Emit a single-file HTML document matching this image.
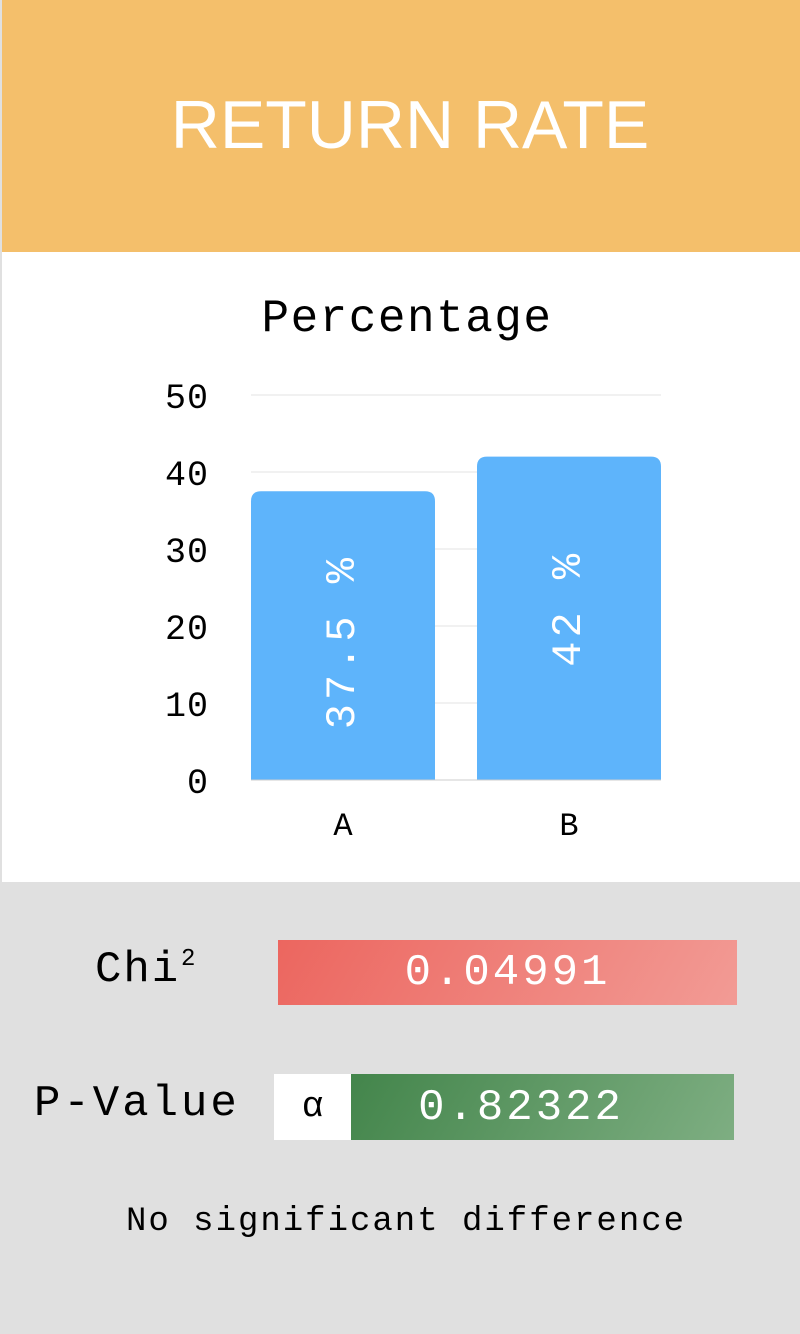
<!DOCTYPE html>
<html><head><meta charset="utf-8"><style>
body{margin:0;width:800px;height:1334px;background:#e0e0e0;font-family:"Liberation Mono",monospace;position:relative;overflow:hidden}
.abs{position:absolute}
</style></head><body>
<div class="abs" style="left:2px;top:0;width:798px;height:252px;background:#f4bf6b"></div>
<div class="abs" style="left:20px;top:80px;width:780px;text-align:center;color:#fff;font-family:'Liberation Sans',sans-serif;font-size:68px;line-height:90px">RETURN RATE</div>
<div class="abs" style="left:2px;top:252px;width:798px;height:630px;background:#fff"></div>
<svg class="abs" style="left:0;top:0" width="800" height="900">
<text x="407" y="331" text-anchor="middle" font-size="46" letter-spacing="1.5" fill="#000" font-family="Liberation Mono">Percentage</text>
<g id="g"></g>
</svg>
<script>
const categories=["A","B"];
const values=[37.5,42];
const labels=["37.5 %","42 %"];
const ticks=[0,10,20,30,40,50];
const ns="http://www.w3.org/2000/svg",g=document.getElementById('g');
const y=v=>780-v*7.7, x0=251, bw=184, step=226;
function mk(t,a){const e=document.createElementNS(ns,t);for(const k in a)e.setAttribute(k,a[k]);g.appendChild(e);return e;}
ticks.forEach(t=>{
 const l=mk('line',{x1:251,x2:661,y1:y(t),y2:y(t),stroke:'#e3e3e3','stroke-width':1});
 
 
 const tx=mk('text',{x:209,y:y(t)+13,'text-anchor':'end','font-size':35,'letter-spacing':1,fill:'#000','font-family':'Liberation Mono'});tx.textContent=t;
 
 
});
categories.forEach((c,i)=>{
 const x=x0+i*step,top=y(values[i]),h=780-top,r=10;
 const p=mk('path',{d:`M${x},780 V${top+r} Q${x},${top} ${x+r},${top} H${x+bw-r} Q${x+bw},${top} ${x+bw},${top+r} V780 Z`,fill:'#5eb4fb'});
 
 
 const cx=x+bw/2,cy=top+h/2+(i==0?6:-10);
 const t=mk('text',{x:cx,y:cy,'text-anchor':'middle','dominant-baseline':'central','font-size':42,'letter-spacing':4,fill:'#fff','font-family':'Liberation Mono',transform:`rotate(-90 ${cx} ${cy})`});t.textContent=labels[i];
 
 
 const xl=mk('text',{x:cx,y:835,'text-anchor':'middle','font-size':32,fill:'#000','font-family':'Liberation Mono'});xl.textContent=c;
 
 
});
mk('line',{x1:251,x2:661,y1:780,y2:780,stroke:'#ccc'});
</script>
<div class="abs" style="left:95px;top:942px;font-size:44px;line-height:56px;letter-spacing:2px">Chi<span style="position:absolute;left:86px;top:-10px;font-size:24px">2</span></div>
<div class="abs" style="left:278px;top:940px;width:459px;height:65px;background:linear-gradient(120deg,#ec665f,#f29b95);color:#fff;text-align:center;font-size:44px;line-height:67px;letter-spacing:3px">0.04991</div>
<div class="abs" style="left:34px;top:1076px;font-size:44px;line-height:56px;letter-spacing:3px">P-Value</div>
<div class="abs" style="left:274px;top:1074px;width:77px;height:66px;background:#fff;text-align:center;font-size:36px;line-height:66px">α</div>
<div class="abs" style="left:351px;top:1074px;width:340px;padding-right:43px;height:66px;background:linear-gradient(120deg,#43854b,#7eae82);color:#fff;text-align:center;font-size:44px;line-height:68px;letter-spacing:3px">0.82322</div>
<div class="abs" style="left:0;top:1200px;width:812px;text-align:center;font-size:34px;line-height:44px;letter-spacing:2px">No significant difference</div>
</body></html>
